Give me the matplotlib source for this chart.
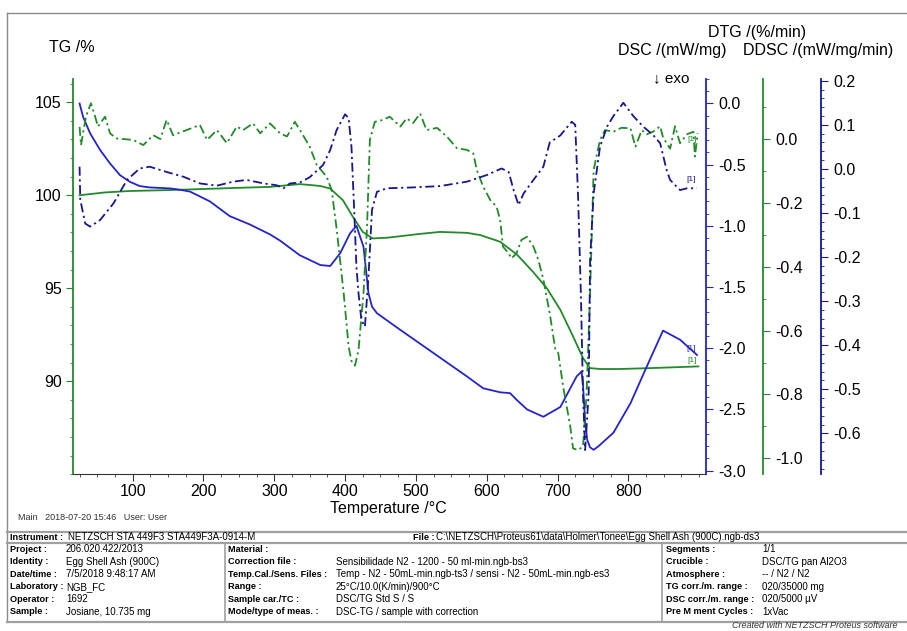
import matplotlib
matplotlib.use('Agg')
import matplotlib.pyplot as plt
from matplotlib.lines import Line2D
from matplotlib.ticker import MultipleLocator, FormatStrFormatter

plt.rcParams['font.family'] = ['Liberation Sans', 'DejaVu Sans']
plt.rcParams['axes.unicode_minus'] = False

# TG mass curve (%)
tg_temp = [25, 60, 96, 153, 195, 250, 294, 336, 365, 379, 397, 411, 425, 439, 460, 478, 505,
           534, 572, 591, 619, 643, 665, 685, 704, 722, 736, 746, 760, 788, 840, 899]
tg_val = [100.0, 100.15, 100.23, 100.28, 100.33, 100.4, 100.45, 100.6, 100.5, 100.36, 99.73,
          98.84, 98.03, 97.68, 97.72, 97.80, 97.92, 98.03, 97.98, 97.86, 97.5, 96.8, 95.9,
          95.0, 93.84, 92.41, 91.25, 90.71, 90.66, 90.66, 90.72, 90.8]

# DSC heat flow (mW/mg)
dsc_temp = [25, 30, 40, 54, 68, 82, 96, 110, 124, 153, 167, 181, 209, 237, 266, 294, 308, 336,
            365, 379, 393, 407, 416, 426, 433, 438, 445, 478, 525, 572, 595, 619, 633, 642,
            657, 680, 704, 727, 734, 736, 739, 742, 746, 751, 758, 779, 803, 826, 849, 873, 897]
dsc_val = [0.0, -0.11, -0.245, -0.38, -0.49, -0.585, -0.64, -0.675, -0.686, -0.694, -0.705,
           -0.72, -0.80, -0.92, -0.99, -1.07, -1.12, -1.24, -1.32, -1.328, -1.224, -1.061,
           -1.0, -1.17, -1.55, -1.66, -1.714, -1.85, -2.04, -2.23, -2.327, -2.36, -2.367,
           -2.42, -2.50, -2.56, -2.48, -2.23, -2.19, -2.3, -2.6, -2.75, -2.81, -2.83, -2.80,
           -2.69, -2.45, -2.15, -1.856, -1.93, -2.055]

# DTG (%/min)
dtg_temp = [25, 27, 34, 41, 47, 51, 61, 68, 77, 101, 115, 129, 139, 148, 157, 176, 195, 205,
            219, 233, 247, 256, 270, 280, 294, 308, 318, 329, 339, 350, 360, 374, 381, 388,
            398, 405, 409, 414, 419, 426, 431, 435, 442, 454, 463, 478, 487, 496, 506, 515,
            530, 544, 558, 572, 581, 586, 595, 605, 614, 619, 623, 631, 635, 642, 649, 657,
            666, 673, 680, 689, 697, 701, 708, 718, 722, 729, 736, 741, 746, 751, 760, 767,
            779, 790, 803, 810, 819, 826, 835, 845, 849, 859, 866, 873, 883, 892, 894, 898]
dtg_val = [0.038, -0.019, 0.07, 0.112, 0.07, 0.039, 0.07, 0.018, 0.002, -0.003, -0.019, 0.012,
           0.0, 0.06, 0.012, 0.028, 0.044, -0.003, 0.028, -0.013, 0.039, 0.028, 0.049, 0.018,
           0.049, 0.018, 0.008, 0.054, 0.018, -0.024, -0.081, -0.118, -0.16, -0.28, -0.483,
           -0.65, -0.695, -0.71, -0.66, -0.483, -0.275, -0.003, 0.054, 0.06, 0.07, 0.039,
           0.065, 0.05, 0.08, 0.028, 0.035, 0.007, -0.029, -0.034, -0.045, -0.097, -0.149,
           -0.191, -0.212, -0.254, -0.337, -0.358, -0.374, -0.358, -0.316, -0.306, -0.337,
           -0.379, -0.44, -0.546, -0.66, -0.67, -0.776, -0.90, -0.969, -0.974, -0.963, -0.80,
           -0.483, -0.097, -0.003, 0.028, 0.023, 0.035, 0.034, -0.024, 0.028, 0.015, 0.023,
           0.04, 0.005, -0.03, 0.04, -0.013, 0.015, 0.023, -0.055, 0.018]

# DDSC (mW/mg/min)
ddsc_temp = [25, 26, 33, 40, 54, 73, 92, 110, 124, 148, 172, 195, 219, 242, 261, 285, 303, 313,
             322, 336, 350, 369, 379, 388, 400, 405, 409, 413, 416, 419, 423, 428, 433, 438,
             445, 459, 496, 534, 572, 600, 621, 631, 638, 645, 652, 666, 680, 689, 704, 720,
             725, 729, 733, 736, 739, 744, 746, 751, 760, 770, 779, 793, 807, 821, 835, 845,
             854, 859, 873, 883, 897]
ddsc_val = [0.005, -0.07, -0.124, -0.131, -0.116, -0.078, -0.025, 0.001, 0.005, -0.007, -0.018,
            -0.033, -0.038, -0.029, -0.025, -0.033, -0.037, -0.044, -0.033, -0.031, -0.019,
            0.009, 0.043, 0.088, 0.124, 0.115, 0.05, -0.10, -0.222, -0.283, -0.343, -0.358,
            -0.245, -0.093, -0.052, -0.044, -0.042, -0.039, -0.029, -0.014, 0.001, -0.007,
            -0.048, -0.082, -0.056, -0.025, 0.005, 0.06, 0.076, 0.107, 0.1, -0.06, -0.283,
            -0.51, -0.638, -0.51, -0.207, -0.056, 0.05, 0.096, 0.12, 0.150, 0.12, 0.096, 0.077,
            0.058, -0.002, -0.025, -0.048, -0.044, -0.044]

temp_ticks = [100, 200, 300, 400, 500, 600, 700, 800]

GREEN = '#23892a'
BLUE = '#2424c8'
NAVY = '#17178a'
DASHDOT = (0, (5, 2, 1.2, 2))

W, H = 907, 631


def fx(x):
    return x / W


def fy(y):
    return 1 - y / H


fig = plt.figure(figsize=(W / 100, H / 100), dpi=100)

ax = fig.add_axes([fx(72.7), fy(474.3), fx(706) - fx(72.7), fy(79) - fy(474.3)])
ax_dsc = ax.twinx()
ax_dtg = ax.twinx()
ax_ddsc = ax.twinx()

# main (TG) axis
ax.set_xlim(15.3, 909.7)
ax.set_ylim(85.0, 106.25)
ax.spines['top'].set_visible(False)
ax.spines['right'].set_visible(False)
ax.spines['left'].set_color(GREEN)
ax.spines['left'].set_linewidth(1.3)
ax.spines['bottom'].set_color('#333333')
ax.set_xticks(temp_ticks)
ax.xaxis.set_minor_locator(MultipleLocator(25))
ax.set_yticks([90, 95, 100, 105])
ax.yaxis.set_minor_locator(MultipleLocator(1))
ax.tick_params(axis='both', which='major', length=5, labelsize=11.5, pad=3)
ax.tick_params(axis='both', which='minor', length=2.5)
ax.tick_params(axis='y', which='both', color=GREEN)
ax.tick_params(axis='x', which='both', color='#333333', pad=2)

# right hand axes
right_axes = [
    (ax_dsc, 1.0, BLUE, (-3.03, 0.2), 0.5, 0.1),
    (ax_dtg, 1.0895, GREEN, (-1.05, 0.188), 0.2, 0.1),
    (ax_ddsc, 1.1816, NAVY, (-0.693, 0.204), 0.1, 0.02),
]
for a, pos, col, lim, major, minor in right_axes:
    for s in ['left', 'top', 'bottom']:
        a.spines[s].set_visible(False)
    a.spines['right'].set_position(('axes', pos))
    a.spines['right'].set_color(col)
    a.spines['right'].set_linewidth(1.3)
    a.set_ylim(*lim)
    a.yaxis.set_major_locator(MultipleLocator(major))
    a.yaxis.set_minor_locator(MultipleLocator(minor))
    a.yaxis.set_major_formatter(FormatStrFormatter('%.1f'))
    a.tick_params(axis='y', which='major', length=5, color=col, labelsize=11.5, pad=4)
    a.tick_params(axis='y', which='minor', length=2.5, color=col)

# curves
ax.plot(tg_temp, tg_val, color=GREEN, lw=1.3)
ax_dsc.plot(dsc_temp, dsc_val, color=BLUE, lw=1.3)
ax_dtg.plot(dtg_temp, dtg_val, color=GREEN, lw=1.3, linestyle=DASHDOT)
ax_ddsc.plot(ddsc_temp, ddsc_val, color=NAVY, lw=1.3, linestyle=DASHDOT)

# segment markers at curve ends
for a, t, v, col, dy in [(ax, tg_temp, tg_val, GREEN, 6), (ax_dsc, dsc_temp, dsc_val, BLUE, 6),
                         (ax_dtg, dtg_temp, dtg_val, GREEN, -6), (ax_ddsc, ddsc_temp, ddsc_val, NAVY, 9)]:
    a.annotate('[1]', xy=(t[-1], v[-1]), xytext=(-6, dy), textcoords='offset pixels',
               ha='center', va='center', fontsize=6, color=col)

# axis titles
fig.text(fx(49), fy(47), 'TG /%', fontsize=11.5, ha='left', va='center')
fig.text(fx(757), fy(33), 'DTG /(%/min)', fontsize=11.5, ha='center', va='center')
fig.text(fx(672), fy(50), 'DSC /(mW/mg)', fontsize=11.5, ha='center', va='center')
fig.text(fx(818), fy(50), 'DDSC /(mW/mg/min)', fontsize=11.5, ha='center', va='center')
fig.text(fx(689), fy(78), '↓ exo', fontsize=11, ha='right', va='center')
fig.text(fx(388), fy(509), 'Temperature /°C', fontsize=11.5, ha='center', va='center')

# page frame
GRAY = '#8a8a8a'
fig.add_artist(Line2D([fx(7), fx(7)], [fy(13), fy(622)], color=GRAY, lw=1))
fig.add_artist(Line2D([fx(7), fx(907)], [fy(13), fy(13)], color=GRAY, lw=1))

fig.text(fx(18), fy(518), 'Main   2018-07-20 15:46   User: User', fontsize=6.5,
         color='#333333', ha='left', va='center')

# measurement info table
for y in [531.5, 543.3, 621.7]:
    fig.add_artist(Line2D([fx(7), fx(907)], [fy(y), fy(y)], color='#a0a0a0', lw=1.6))
for x in [225, 662]:
    fig.add_artist(Line2D([fx(x), fx(x)], [fy(543.3), fy(621.7)], color='#a0a0a0', lw=1.2))

LS = 6.6   # bold field names
VS = 7     # field values
fig.text(fx(10), fy(537.5), 'Instrument :', fontsize=LS, fontweight='bold', va='center')
fig.text(fx(68), fy(537.5), 'NETZSCH STA 449F3 STA449F3A-0914-M', fontsize=VS, va='center')
fig.text(fx(413), fy(537.5), 'File :', fontsize=LS, fontweight='bold', va='center')
fig.text(fx(436), fy(537.5), 'C:\\NETZSCH\\Proteus61\\data\\Holmer\\Tonee\\Egg Shell Ash (900C).ngb-ds3',
         fontsize=VS, va='center')

row_y = [549.3, 561.8, 574.3, 586.8, 599.3, 611.8]
col1 = [('Project :', '206.020.422/2013'),
        ('Identity :', 'Egg Shell Ash (900C)'),
        ('Date/time :', '7/5/2018 9:48:17 AM'),
        ('Laboratory :', 'NGB_FC'),
        ('Operator :', '1692'),
        ('Sample :', 'Josiane, 10.735 mg')]
col2 = [('Material :', ''),
        ('Correction file :', 'Sensibilidade N2 - 1200 - 50 ml-min.ngb-bs3'),
        ('Temp.Cal./Sens. Files :', 'Temp - N2 - 50mL-min.ngb-ts3 / sensi - N2 - 50mL-min.ngb-es3'),
        ('Range :', '25°C/10.0(K/min)/900°C'),
        ('Sample car./TC :', 'DSC/TG Std S / S'),
        ('Mode/type of meas. :', 'DSC-TG / sample with correction')]
col3 = [('Segments :', '1/1'),
        ('Crucible :', 'DSC/TG pan Al2O3'),
        ('Atmosphere :', '-- / N2 / N2'),
        ('TG corr./m. range :', '020/35000 mg'),
        ('DSC corr./m. range :', '020/5000 µV'),
        ('Pre M ment Cycles :', '1xVac')]
for cols, xl, xv in [(col1, 10, 66), (col2, 228, 336), (col3, 666, 762)]:
    for y, (lab, val) in zip(row_y, cols):
        fig.text(fx(xl), fy(y), lab, fontsize=LS, fontweight='bold', va='center')
        fig.text(fx(xv), fy(y), val, fontsize=VS, va='center')

fig.text(fx(897), fy(626), 'Created with NETZSCH Proteus software', fontsize=6.5,
         style='italic', ha='right', va='center', color='#333333')

fig.savefig('out.png', dpi=100)
